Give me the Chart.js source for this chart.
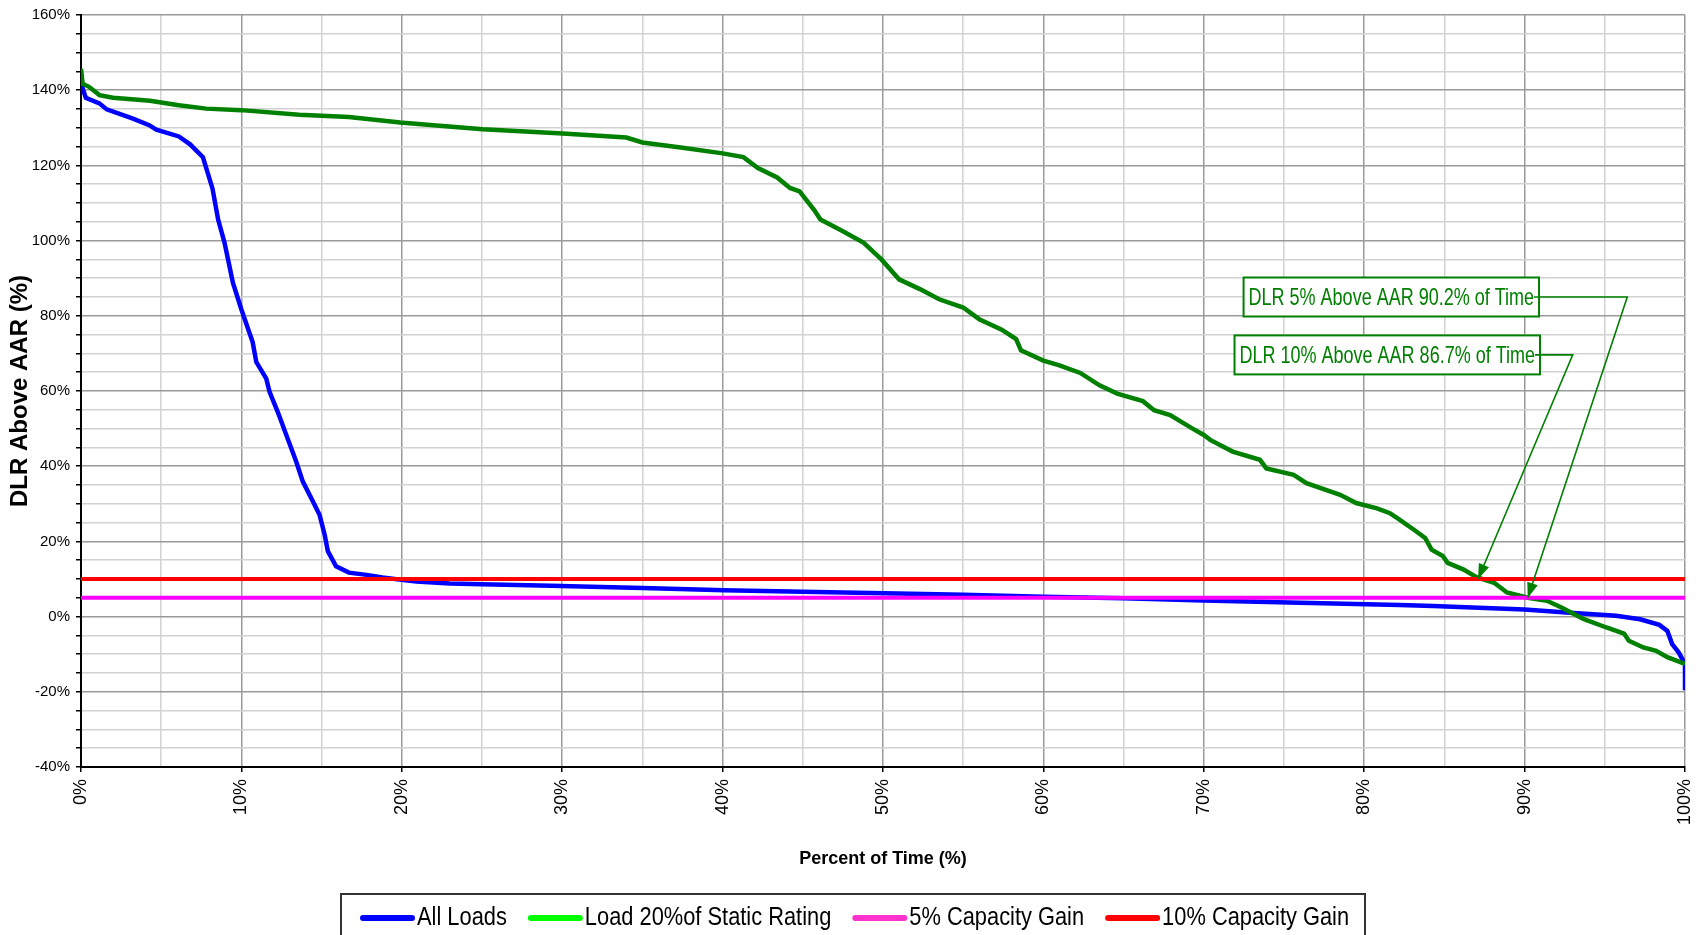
<!DOCTYPE html>
<html>
<head>
<meta charset="utf-8">
<script src="https://cdn.jsdelivr.net/npm/chart.js@4.4.1/dist/chart.umd.min.js"></script>
<style>
  html, body { margin: 0; padding: 0; background: #fff; }
  #wrap { width: 1697px; height: 935px; }
</style>
</head>
<body>
<div id="wrap"><canvas id="dlr-chart" width="1697" height="935"></canvas></div>
<script>
// Duration curves (percent of time -> DLR above AAR, %)
const allLoadsTime = [0, 0.1, 0.3, 1.15, 1.6, 3.2, 4.25, 4.7, 6.1, 6.8, 7.6, 8.2, 8.55, 8.95, 9.47, 9.99,
  10.7, 10.93, 11.55, 11.76, 12.27, 12.8, 13.42, 13.83, 14.46, 14.87, 15.19, 15.39, 15.9, 16.7, 17.8,
  18.8, 20.9, 23, 25, 29.3, 35, 40.1, 45, 50.1, 55, 60, 65, 70, 76, 82.2, 84.3, 90, 92.6, 95.7, 97.2,
  98.4, 98.9, 99.2, 99.6, 100, 100];
const allLoadsDlr = [144.4, 140.5, 138, 136.5, 134.9, 132.5, 130.7, 129.5, 127.7, 125.6, 122.2, 113.8,
  105.6, 99.4, 88.8, 81.8, 73.0, 67.7, 63.3, 59.7, 54.4, 48.3, 41.2, 35.9, 30.6, 27.1, 21.8, 17.4, 13.4,
  11.7, 11.1, 10.4, 9.3, 8.8, 8.6, 8.2, 7.6, 7.0, 6.6, 6.2, 5.8, 5.3, 4.9, 4.3, 3.7, 3.1, 2.8, 1.9, 1.1,
  0.2, -0.7, -2.2, -3.8, -7.3, -9.5, -12.6, -19.6];

const staticLoadTime = [0, 0.1, 0.5, 1.15, 2, 4.3, 6.1, 7.8, 10, 13.6, 16.7, 19.9, 22.35, 25.05, 30.04,
  34, 35, 37.5, 40, 41.3, 42.2, 43.4, 44.2, 44.8, 45.7, 46.1, 47.5, 48.8, 49.9, 51, 52.3, 53.5, 55, 56,
  57.4, 58.3, 58.6, 60, 61, 62.3, 63.5, 64.6, 66.2, 66.9, 67.9, 69.3, 70, 70.4, 71.8, 73.5, 73.9, 75.6,
  76.4, 78.5, 79.5, 80.8, 81.6, 82.2, 83.1, 83.8, 84.2, 84.9, 85.2, 86.2, 87, 88.1, 88.9, 90.2, 91.4,
  92.3, 93.1, 93.7, 95.1, 96.2, 96.5, 97.4, 98.2, 98.9, 100];
const staticLoadDlr = [145.7, 141.7, 140.9, 138.7, 138, 137.2, 136, 135.1, 134.7, 133.5, 132.9, 131.4,
  130.55, 129.6, 128.5, 127.4, 126.1, 124.7, 123.2, 122.2, 119.3, 116.8, 114, 113.1, 108.2, 105.6, 102.5,
  99.4, 95.0, 89.7, 87.1, 84.4, 82.2, 79.1, 76.3, 73.8, 70.8, 68.1, 66.8, 64.8, 61.5, 59.3, 57.3, 54.9,
  53.6, 50.0, 48.3, 47.0, 43.9, 41.7, 39.4, 37.7, 35.5, 32.4, 30.2, 28.8, 27.5, 25.8, 23.1, 20.9, 17.8,
  16.1, 14.3, 12.5, 10.5, 9.0, 6.4, 5.0, 4.2, 2.4, 0.6, -0.7, -2.9, -4.5, -6.4, -8.2, -9.1, -10.8, -12.6];

const gainTime = [0, 100];
const gain5 = [5, 5];
const gain10 = [10, 10];

const seriesNames = ['All Loads', 'Load 20%of Static Rating', '5% Capacity Gain', '10% Capacity Gain'];

const callouts = [
  { text: 'DLR 5% Above AAR 90.2% of Time', boxRight: 90.9, boxMid: 85.0, elbow: [96.4, 85.0], tip: [90.2, 5] },
  { text: 'DLR 10% Above AAR 86.7% of Time', boxRight: 90.96, boxMid: 69.6, elbow: [93.0, 69.6], tip: [87.1, 10] }
];

const ARIAL = "'Liberation Sans', Arial, sans-serif";
const legendColors = ['#0000ff', '#00ff00', '#ff33cc', '#ff0000'];

function toPoints(xs, ys) {
    return xs.map((x, i) => ({ x: x, y: ys[i] }));
}

// no condensed font installed, so squeeze the text horizontally
function narrowText(ctx, text, x, y, squeeze) {
    ctx.save();
    ctx.translate(x, y);
    ctx.scale(squeeze, 1);
    ctx.fillText(text, 0, 0);
    ctx.restore();
    return ctx.measureText(text).width * squeeze;
}

const overlay = {
    id: 'overlay',
    afterDatasetsDraw(chart) {
        const ctx = chart.ctx;
        const x = chart.scales.x, y = chart.scales.y;
        ctx.save();
        callouts.forEach(c => {
            ctx.font = '24px ' + ARIAL;
            const squeeze = 0.75;
            const tw = ctx.measureText(c.text).width * squeeze;
            const right = x.getPixelForValue(c.boxRight);
            const cy = y.getPixelForValue(c.boxMid);
            const h = 39;
            const left = right - tw - 10;
            ctx.fillStyle = '#fff';
            ctx.fillRect(left, cy - h / 2, right - left, h);
            ctx.strokeStyle = '#008000';
            ctx.lineWidth = 2;
            ctx.strokeRect(left, cy - h / 2, right - left, h);
            ctx.fillStyle = '#008000';
            ctx.textAlign = 'left';
            ctx.textBaseline = 'middle';
            narrowText(ctx, c.text, left + 5, cy + 1, squeeze);

            // leader line with arrow
            const ex = x.getPixelForValue(c.elbow[0]), ey = y.getPixelForValue(c.elbow[1]);
            const tx = x.getPixelForValue(c.tip[0]), ty = y.getPixelForValue(c.tip[1]);
            ctx.lineWidth = 1.6;
            ctx.beginPath();
            ctx.moveTo(right - 5, cy);
            ctx.lineTo(ex, ey);
            ctx.lineTo(tx, ty);
            ctx.stroke();
            const a = Math.atan2(ty - ey, tx - ex);
            const len = 15, hw = 5.5;
            ctx.beginPath();
            ctx.moveTo(tx, ty);
            ctx.lineTo(tx - len * Math.cos(a) + hw * Math.sin(a), ty - len * Math.sin(a) - hw * Math.cos(a));
            ctx.lineTo(tx - len * Math.cos(a) - hw * Math.sin(a), ty - len * Math.sin(a) + hw * Math.cos(a));
            ctx.closePath();
            ctx.fill();
        });
        ctx.restore();
    },
    afterDraw(chart) {
        // boxed legend along the bottom (cut off by the canvas edge like the original)
        const ctx = chart.ctx;
        ctx.save();
        ctx.strokeStyle = '#333';
        ctx.lineWidth = 2;
        ctx.strokeRect(341, 894, 1024, 60);
        ctx.font = '26px ' + ARIAL;
        ctx.textAlign = 'left';
        ctx.textBaseline = 'middle';
        let cx = 360;
        const cy = 918;
        seriesNames.forEach((name, i) => {
            ctx.strokeStyle = legendColors[i];
            ctx.lineWidth = 6;
            ctx.lineCap = 'round';
            ctx.beginPath();
            ctx.moveTo(cx + 3, cy);
            ctx.lineTo(cx + 52, cy);
            ctx.stroke();
            ctx.fillStyle = '#000';
            const w = narrowText(ctx, name, cx + 57, cy, 0.84);
            cx += 57 + w + 21;
        });
        ctx.restore();
    }
};

const ctx = document.getElementById('dlr-chart').getContext('2d');
const chart = new Chart(ctx, {
    type: 'line',
    data: {
        datasets: [
            { label: seriesNames[0], data: toPoints(allLoadsTime, allLoadsDlr), borderColor: '#0000ff', borderWidth: 4.5, order: 4 },
            { label: seriesNames[1], data: toPoints(staticLoadTime, staticLoadDlr), borderColor: '#008000', borderWidth: 4.5, order: 3 },
            { label: seriesNames[2], data: toPoints(gainTime, gain5), borderColor: '#ff00ff', order: 2 },
            { label: seriesNames[3], data: toPoints(gainTime, gain10), borderColor: '#ff0000', order: 1 }
        ]
    },
    options: {
        responsive: false,
        animation: false,
        layout: { padding: { left: 0, top: 11, right: 12, bottom: 61 } },
        elements: {
            point: { radius: 0 },
            line: { borderWidth: 4, tension: 0, fill: false }
        },
        plugins: {
            legend: { display: false },
            tooltip: { enabled: false }
        },
        scales: {
            x: {
                type: 'linear',
                min: 0,
                max: 100,
                afterFit: s => { s.height = 107; s.paddingRight = 0; s.paddingLeft = 0; },
                ticks: {
                    stepSize: 5,
                    autoSkip: false,
                    minRotation: 90,
                    maxRotation: 90,
                    padding: 7,
                    color: '#000',
                    font: { family: ARIAL, size: 18 },
                    callback: v => (v % 10 === 0 ? v + '%' : '')
                },
                grid: {
                    color: c => (c.tick && c.tick.value % 10 === 0 ? '#9a9a9a' : '#d2d2d2'),
                    lineWidth: 1.5,
                    tickLength: 5,
                    tickColor: c => (c.tick && c.tick.value % 10 === 0 ? '#000' : 'rgba(0,0,0,0)')
                },
                border: { color: '#000', width: 2 },
                title: {
                    display: true,
                    text: 'Percent of Time (%)',
                    color: '#000',
                    font: { family: ARIAL, size: 18, weight: 'bold' },
                    padding: { top: 0, bottom: 4 }
                }
            },
            y: {
                min: -40,
                max: 160,
                afterFit: s => { s.width = 81; },
                ticks: {
                    stepSize: 5,
                    autoSkip: false,
                    padding: 6,
                    color: '#000',
                    font: { family: ARIAL, size: 15 },
                    callback: v => (v % 20 === 0 ? v + '%' : '')
                },
                grid: {
                    color: c => (c.tick && c.tick.value % 20 === 0 ? '#9a9a9a' : '#d2d2d2'),
                    lineWidth: 1.5,
                    tickLength: 5,
                    tickColor: '#000'
                },
                border: { color: '#000', width: 2 },
                title: {
                    display: true,
                    text: 'DLR Above AAR (%)',
                    color: '#000',
                    font: { family: ARIAL, size: 24, weight: 'bold' },
                    padding: { top: 6, bottom: 0 }
                }
            }
        }
    },
    plugins: [overlay]
});
</script>
</body>
</html>
